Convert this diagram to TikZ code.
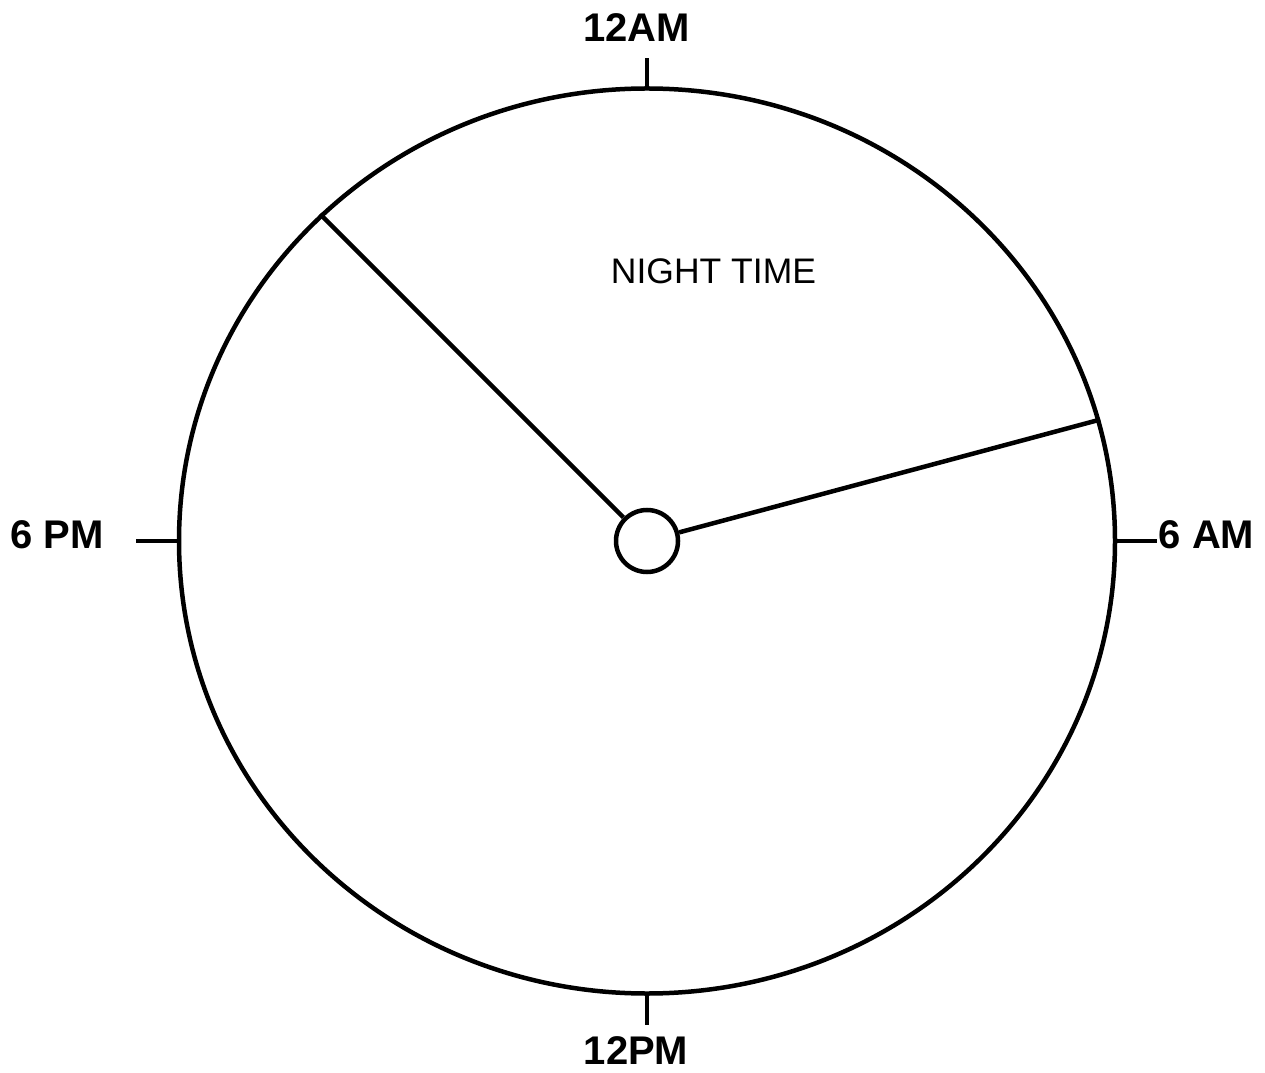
\documentclass[tikz,border=0pt]{standalone}
\usepackage{fontspec}
\setmainfont{Liberation Sans}
\usepackage{tikz}
\usetikzlibrary{positioning,calc,shapes.geometric}
\definecolor{cInk}{HTML}{000000}
\tikzset{
  dial/.style={draw=cInk,ellipse,line width=4.5pt,inner sep=0pt,minimum width=936pt,minimum height=905pt},
  hubnode/.style={draw=cInk,circle,line width=4.5pt,inner sep=0pt,minimum size=62pt,fill=white},
  hand/.style={cInk,line width=4.5pt},
  tick/.style={cInk,line width=4.5pt},
  hourlbl/.style={inner sep=0pt,font=\fontsize{40}{48}\selectfont\bfseries},
  zonelbl/.style={inner sep=0pt,font=\fontsize{35.5}{42}\selectfont}
}

\begin{document}
\begin{tikzpicture}[x=1pt,y=1pt]
  \useasboundingbox (0,0) rectangle (1265,1072);
  \node[dial] (face) at (647,531) {};
  % hands
  \node[hubnode] (hub) at (647,531) {};
  \draw[hand] (hub) -- (face.135);
  \draw[hand] (hub) -- (face.15.3);
  % ticks
  \coordinate (tkN) at ($(face.north)+(0,28)$);
  \coordinate (tkS) at ($(face.south)+(0,-29)$);
  \coordinate (tkW) at ($(face.west)+(-41,0)$);
  \coordinate (tkE) at ($(face.east)+(40,0)$);
  \draw[tick] (face.north) -- (tkN);
  \draw[tick] (face.south) -- (tkS);
  \draw[tick] (face.west) -- (tkW);
  \draw[tick] (face.east) -- (tkE);
  % labels
  \node[hourlbl] (midnight) at (636.5,1044) {12AM};
  \node[hourlbl] (noon) at (636,21) {12PM};
  \node[hourlbl] (eve) at (57,537) {6 PM};
  \node[hourlbl] (morn) at (1206.5,537) {6 AM};
  \node[zonelbl] (night) at (713.5,801) {NIGHT TIME};
\end{tikzpicture}
\end{document}
